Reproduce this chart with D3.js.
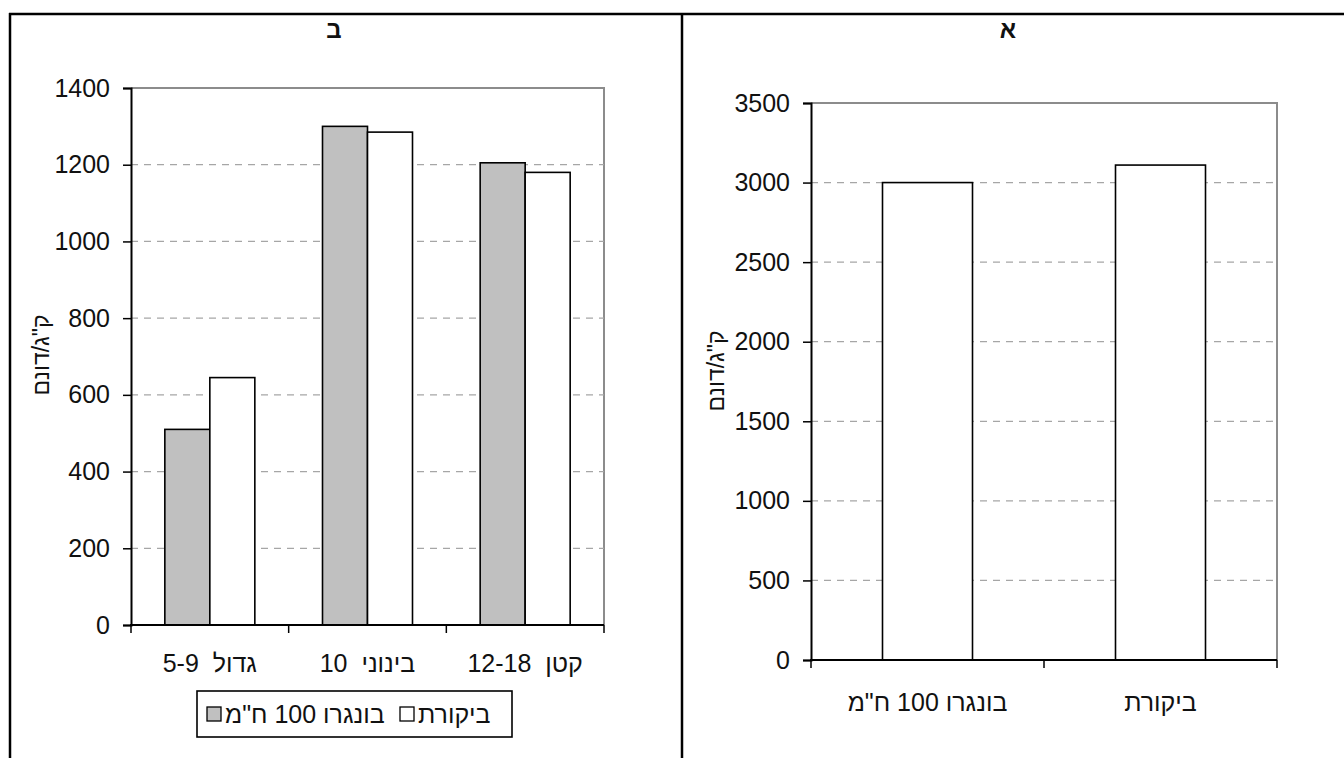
<!DOCTYPE html>
<html><head><meta charset="utf-8">
<script src="https://cdn.jsdelivr.net/npm/d3@7"></script>
<style>
html,body{margin:0;padding:0;background:#fff;}
text{font-family:"Liberation Sans",Arial,sans-serif;fill:#111;}
.xl{white-space:pre;}
</style></head>
<body><svg id="c" width="1344" height="758"></svg>
<script>
// ---- data ----
const leftTitle = "ב";
const rightTitle = "א";
const yLabel = "ק\"ג/דונם";
const leftCategories = ["גדול  5-9", "בינוני  10", "קטן  12-18"];
const leftSeries = ["בונגרו 100 ח\"מ", "ביקורת"];
const leftTreated = [510, 1300, 1205];
const leftControl = [645, 1285, 1180];
const leftTicks = [0, 200, 400, 600, 800, 1000, 1200, 1400];
const rightCategories = ["בונגרו 100 ח\"מ", "ביקורת"];
const rightValues = [3000, 3110];
const rightTicks = [0, 500, 1000, 1500, 2000, 2500, 3000, 3500];
const seriesColors = ["#c0c0c0", "#ffffff"];

const svg = d3.select("#c");
svg.append("rect").attr("width",1344).attr("height",758).attr("fill","#fff");

// frame (table borders)
const frame = svg.append("g").attr("stroke","#000").attr("stroke-width",2.5);
frame.append("line").attr("x1",9).attr("x2",1344).attr("y1",14).attr("y2",14);
frame.append("line").attr("x1",10).attr("x2",10).attr("y1",13).attr("y2",758);
frame.append("line").attr("x1",682).attr("x2",682).attr("y1",13).attr("y2",758);

svg.append("text").attr("x",334).attr("y",38).attr("text-anchor","middle")
  .attr("font-size",24).attr("font-weight","bold").text(leftTitle);
svg.append("text").attr("x",1008).attr("y",38).attr("text-anchor","middle")
  .attr("font-size",24).attr("font-weight","bold").text(rightTitle);

const FS = 25;

function drawChart(opts){
  const {x0,x1,yTop,yBot,cats,series,values,ticks,ymax,labelY,ylabX,ylabY} = opts;
  const g = svg.append("g");
  const p = opts.padInner;
  const x = d3.scaleBand().domain(cats).range([x0,x1]).paddingInner(p).paddingOuter(p/2);
  const xs = d3.scaleBand().domain(series).range([0,x.bandwidth()]);
  const y = d3.scaleLinear().domain([0,ymax]).range([yBot,yTop]);

  // plot area border (top/right gray)
  g.append("path").attr("d",`M${x0},${y(ymax)}H${x1}V${yBot}`)
   .attr("fill","none").attr("stroke","#8c8c8c").attr("stroke-width",2);
  // gridlines
  g.selectAll(".grid").data(ticks.filter(t=>t>0 && t<ymax)).join("line")
   .attr("x1",x0).attr("x2",x1).attr("y1",d=>y(d)).attr("y2",d=>y(d))
   .attr("stroke","#a6a6a6").attr("stroke-width",1.3).attr("stroke-dasharray","7,6");

  // bars
  series.forEach((s,si)=>{
    g.selectAll(".bar"+si).data(cats).join("rect")
     .attr("x",c=>x(c)+xs(s)).attr("width",xs.bandwidth())
     .attr("y",(c,i)=>y(values[si][i])).attr("height",(c,i)=>yBot-y(values[si][i]))
     .attr("fill",opts.colors[si]).attr("stroke","#000").attr("stroke-width",1.6);
  });

  // y axis
  const ya = g.append("g").attr("transform",`translate(${x0},0)`)
    .call(d3.axisLeft(y).tickValues(ticks).tickSize(8).tickPadding(13).tickFormat(d3.format("d")));
  ya.select(".domain").attr("stroke","#000").attr("stroke-width",2);
  ya.selectAll(".tick line").attr("stroke","#000").attr("stroke-width",1.5);
  ya.selectAll(".tick text").attr("font-size",FS).attr("font-family","Liberation Sans, Arial").attr("fill","#111");

  // x axis baseline + ticks at category boundaries
  g.append("line").attr("x1",x0-1).attr("x2",x1).attr("y1",yBot).attr("y2",yBot)
   .attr("stroke","#000").attr("stroke-width",2);
  const bounds = d3.range(cats.length+1).map(i=>x0+i*x.step());
  g.selectAll(".xt").data(bounds).join("line")
   .attr("x1",d=>d).attr("x2",d=>d).attr("y1",yBot).attr("y2",yBot+8)
   .attr("stroke","#000").attr("stroke-width",1.5);
  g.selectAll(".xl").data(cats).join("text").attr("class","xl")
   .attr("x",c=>x(c)+x.bandwidth()/2).attr("y",labelY)
   .attr("text-anchor","middle").attr("direction","rtl").attr("font-size",FS).text(c=>c);

  // y label
  g.append("text").attr("transform",`translate(${ylabX},${ylabY}) rotate(-90)`)
   .attr("text-anchor","middle").attr("font-size",23).text(yLabel);
  return {x,y};
}

drawChart({x0:131,x1:604,yTop:88,yBot:625,cats:leftCategories,series:leftSeries,
  values:[leftTreated,leftControl],ticks:leftTicks,ymax:1400,labelY:672,ylabX:49,ylabY:355,
  padInner:1-90/157.67,colors:seriesColors});

drawChart({x0:811,x1:1277,yTop:103,yBot:660,cats:rightCategories,series:["v"],
  values:[rightValues],ticks:rightTicks,ymax:3500,labelY:711,ylabX:724,ylabY:371,
  padInner:1-90/233,colors:["#ffffff"]});

// legend
const lg = svg.append("g");
lg.append("rect").attr("x",197).attr("y",691).attr("width",315).attr("height",46)
  .attr("fill","#fff").attr("stroke","#000").attr("stroke-width",1.6);
const legItems = [{s:leftSeries[0],c:seriesColors[0],sx:207,tx:225},{s:leftSeries[1],c:seriesColors[1],sx:400,tx:418}];
legItems.forEach(it=>{
  lg.append("rect").attr("x",it.sx).attr("y",707).attr("width",14).attr("height",14)
    .attr("fill",it.c).attr("stroke","#000").attr("stroke-width",1.3);
  lg.append("text").attr("x",it.tx).attr("y",723).attr("font-size",FS).text(it.s);
});
</script></body></html>
